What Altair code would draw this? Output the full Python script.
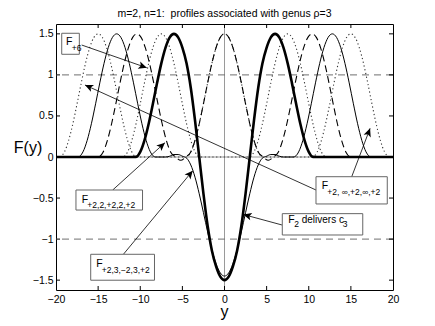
import math
import altair as alt
import pandas as pd

W, H = 337, 266
XMIN, XMAX = -20, 20
YMIN, YMAX = -1.62, 1.62

title_text = "m=2, n=1:\u00a0 profiles associated with genus \u03c1=3"
x_ticks = [-20, -15, -10, -5, 0, 5, 10, 15, 20]
y_ticks = [-1.5, -1, -0.5, 0, 0.5, 1, 1.5]
ref_dashed = [1, -1]

# thick solid: F_2 delivers c_3
thick_x = [-20, -11, -10.5, -10, -9.5, -9, -8.5, -8, -7.5, -7, -6.5, -6, -5.5, -5, -4.5, -4, -3.5, -3,
           -2.5, -2, -1.5, -1, -0.5, 0, 0.5, 1, 1.5, 2, 2.5, 3, 3.5, 4, 4.5, 5, 5.5, 6, 6.5, 7, 7.5,
           8, 8.5, 9, 9.5, 10, 10.5, 11, 20]
thick_y = [0, 0, 0.002, 0.062, 0.202, 0.405, 0.648, 0.903, 1.14, 1.332, 1.457, 1.5, 1.457, 1.332,
           1.138, 0.841, 0.446, 0, -0.446, -0.841, -1.138, -1.332, -1.457, -1.5, -1.457, -1.332,
           -1.138, -0.841, -0.446, 0, 0.446, 0.841, 1.138, 1.332, 1.457, 1.5, 1.457, 1.332, 1.14,
           0.903, 0.648, 0.405, 0.202, 0.062, 0.002, 0, 0]

# thin solid: F_{+2,3,-2,3,+2}
thin_x = [-20, -17.4, -16.8, -16.3, -15.8, -15.3, -14.8, -14.3, -13.8, -13.3, -12.8, -12.3, -11.8,
          -11.3, -10.8, -10.3, -9.8, -9.3, -8.8, -8.2, -7, -6.5, -6, -5.5, -5, -4.5, -4, -3.5, -3,
          -2.5, -2, -1.5, -1, -0.5, 0, 0.5, 1, 1.5, 2, 2.5, 3, 3.5, 4, 4.5, 5, 5.5, 6, 6.5, 7, 8.2,
          8.8, 9.3, 9.8, 10.3, 10.8, 11.3, 11.8, 12.3, 12.8, 13.3, 13.8, 14.3, 14.8, 15.3, 15.8,
          16.3, 16.8, 17.4, 20]
thin_y = [0, 0, 0.062, 0.202, 0.405, 0.648, 0.903, 1.14, 1.332, 1.457, 1.5, 1.457, 1.332, 1.14,
          0.903, 0.648, 0.405, 0.202, 0.062, 0, 0, 0.01, 0.03, 0.03, 0.01, -0.014, -0.097, -0.246,
          -0.448, -0.677, -0.913, -1.128, -1.3, -1.412, -1.45, -1.412, -1.3, -1.128, -0.913,
          -0.677, -0.448, -0.246, -0.097, -0.014, 0.01, 0.03, 0.03, 0.01, 0, 0, 0.062, 0.202,
          0.405, 0.648, 0.903, 1.14, 1.332, 1.457, 1.5, 1.457, 1.332, 1.14, 0.903, 0.648, 0.405,
          0.202, 0.062, 0, 0]

# dashed: F_{+2,2,+2,2,+2}
dash_x = [-20, -15, -14.4, -13.9, -13.4, -12.9, -12.4, -11.9, -11.4, -10.9, -10.4, -9.9, -9.4,
          -8.9, -8.4, -7.9, -7.4, -6.9, -6.4, -5.8, -5.2, -4.6, -4, -3.5, -3, -2.5, -2, -1.5, -1,
          -0.5, 0, 0.5, 1, 1.5, 2, 2.5, 3, 3.5, 4, 4.6, 5.2, 5.8, 6.4, 6.9, 7.4, 7.9, 8.4, 8.9,
          9.4, 9.9, 10.4, 10.9, 11.4, 11.9, 12.4, 12.9, 13.4, 13.9, 14.4, 15, 20]
dash_y = [0, 0, 0.062, 0.202, 0.405, 0.648, 0.903, 1.14, 1.332, 1.457, 1.5, 1.457, 1.332, 1.14,
          0.903, 0.648, 0.405, 0.202, 0.062, 0, -0.04, 0, 0.062, 0.202, 0.405, 0.648, 0.903, 1.14,
          1.332, 1.457, 1.5, 1.457, 1.332, 1.14, 0.903, 0.648, 0.405, 0.202, 0.062, 0, -0.04, 0,
          0.062, 0.202, 0.405, 0.648, 0.903, 1.14, 1.332, 1.457, 1.5, 1.457, 1.332, 1.14, 0.903,
          0.648, 0.405, 0.202, 0.062, 0, 0]

# dotted (outer): F_{+2,inf,+2,inf,+2}
dot1_x = [-20, -19.6, -19, -18.5, -18, -17.5, -17, -16.5, -16, -15.5, -15, -14.5, -14, -13.5, -13,
          -12.5, -12, -11.5, -11, -10.4, -4.6, -4, -3.5, -3, -2.5, -2, -1.5, -1, -0.5, 0, 0.5, 1,
          1.5, 2, 2.5, 3, 3.5, 4, 4.6, 10.4, 11, 11.5, 12, 12.5, 13, 13.5, 14, 14.5, 15, 15.5, 16,
          16.5, 17, 17.5, 18, 18.5, 19, 19.6, 20]
dot1_y = [0, 0, 0.062, 0.202, 0.405, 0.648, 0.903, 1.14, 1.332, 1.457, 1.5, 1.457, 1.332, 1.14,
          0.903, 0.648, 0.405, 0.202, 0.062, 0, 0, 0.062, 0.202, 0.405, 0.648, 0.903, 1.14, 1.332,
          1.457, 1.5, 1.457, 1.332, 1.14, 0.903, 0.648, 0.405, 0.202, 0.062, 0, 0, 0.062, 0.202,
          0.405, 0.648, 0.903, 1.14, 1.332, 1.457, 1.5, 1.457, 1.332, 1.14, 0.903, 0.648, 0.405,
          0.202, 0.062, 0, 0]

# dotted (inner): F_{+6}
dot2_x = [-20, -12.1, -11.5, -11, -10.5, -10, -9.5, -9, -8.5, -8, -7.5, -7, -6.5, -6, -5.5, -5,
          -4.5, -4, -3.5, -2.9, 2.9, 3.5, 4, 4.5, 5, 5.5, 6, 6.5, 7, 7.5, 8, 8.5, 9, 9.5, 10, 10.5,
          11, 11.5, 12.1, 20]
dot2_y = [0, 0, 0.062, 0.202, 0.405, 0.648, 0.903, 1.14, 1.332, 1.457, 1.5, 1.457, 1.332, 1.14,
          0.903, 0.648, 0.405, 0.202, 0.062, 0, 0, 0.062, 0.202, 0.405, 0.648, 0.903, 1.14, 1.332,
          1.457, 1.5, 1.457, 1.332, 1.14, 0.903, 0.648, 0.405, 0.202, 0.062, 0, 0]

# annotation boxes (data units)
box_x1 = [-19.32, 10.86, -17.63, -15.88, 6.86]
box_x2 = [-17.23, 19.32, -9.73, -8.31, 16.41]
box_y1 = [1.507, -0.240, -0.402, -1.185, -0.69]
box_y2 = [1.251, -0.572, -0.646, -1.501, -0.95]

# annotation texts
txt_x = [-18.81, -18.14, 11.54, 12.2, -16.95, -16.28, -15.22, -14.57, 7.57, 8.28, 9.16, 14.03]
txt_y = [1.398, 1.324, -0.353, -0.423, -0.521, -0.585, -1.303, -1.38, -0.764, -0.816, -0.764, -0.816]
txt_s = ["F", "+6", "F", "+2, \u221e,+2,\u221e,+2", "F", "+2,2,+2,2,+2", "F", "+2,3,\u22122,3,+2",
         "F", "2", "delivers c", "3"]
txt_size = [10.5, 8.5, 10.5, 8.5, 10.5, 8.5, 10.5, 8.5, 10.5, 8.5, 10, 8.5]

# arrows (data units): start -> tip
arr_x1 = [-16.95, 10.86, 15.1, -13.27, -12.0, 6.82]
arr_y1 = [1.364, -0.402, -0.240, -0.402, -1.185, -0.828]
arr_x2 = [-9.23, -16.56, 17.28, -7.07, -3.77, 2.23]
arr_y2 = [1.087, 0.877, 0.349, 0.174, -0.167, -0.70]

xs = alt.Scale(domain=[XMIN, XMAX], nice=False, zero=False)
ys = alt.Scale(domain=[YMIN, YMAX], nice=False, zero=False)
FONT = "Liberation Sans"

xaxis = alt.Axis(values=x_ticks, ticks=False, tickSize=0, domain=False, grid=False, title=None,
                 labelFont=FONT, labelFontSize=10.5, labelColor="black", labelPadding=4,
                 format="~g", labelFlush=False)
yaxis = alt.Axis(values=y_ticks, ticks=False, tickSize=0, domain=False, grid=False, title=None,
                 labelFont=FONT, labelFontSize=10.5, labelColor="black", labelPadding=3,
                 format="~g")


def X(field):
    return alt.X(field, type="quantitative", scale=xs, axis=xaxis)


def Y(field):
    return alt.Y(field, type="quantitative", scale=ys, axis=yaxis)


# reference lines
zero_h = alt.Chart(pd.DataFrame({"y": [0]})).mark_rule(color="#9a9a9a", strokeWidth=1).encode(
    y=Y("y"))
zero_v = alt.Chart(pd.DataFrame({"x": [0]})).mark_rule(color="#9a9a9a", strokeWidth=1).encode(
    x=X("x"))
dash_ref = alt.Chart(pd.DataFrame({"y": ref_dashed})).mark_rule(
    color="#6f6f6f", strokeWidth=1, strokeDash=[7, 5]).encode(y=Y("y"))


def curve(xv, yv, **style):
    df = pd.DataFrame({"x": xv, "y": yv})
    return alt.Chart(df).mark_line(interpolate="monotone", clip=True, **style).encode(
        x=X("x"), y=Y("y"))


c_dot1 = curve(dot1_x, dot1_y, color="#333333", strokeWidth=1.1, strokeDash=[1.2, 2.6])
c_dot2 = curve(dot2_x, dot2_y, color="#333333", strokeWidth=1.1, strokeDash=[1.2, 2.6])
c_dash = curve(dash_x, dash_y, color="black", strokeWidth=1.1, strokeDash=[7, 4])
c_thin = curve(thin_x, thin_y, color="black", strokeWidth=1.0)
c_thick = curve(thick_x, thick_y, color="black", strokeWidth=2.6)

# inward ticks on all four sides
tx = pd.DataFrame({"t": x_ticks[1:-1]})
ty = pd.DataFrame({"t": y_ticks})
tick_b = alt.Chart(tx).mark_rule(color="black", strokeWidth=1).encode(
    x=X("t"), y=alt.value(H), y2=alt.value(H - 4))
tick_t = alt.Chart(tx).mark_rule(color="black", strokeWidth=1).encode(
    x=X("t"), y=alt.value(0), y2=alt.value(4))
tick_l = alt.Chart(ty).mark_rule(color="black", strokeWidth=1).encode(
    y=Y("t"), x=alt.value(0), x2=alt.value(4))
tick_r = alt.Chart(ty).mark_rule(color="black", strokeWidth=1).encode(
    y=Y("t"), x=alt.value(W), x2=alt.value(W - 4))

# arrows
px_x = W / (XMAX - XMIN)
px_y = H / (YMAX - YMIN)
angles = []
for a, b, c, d in zip(arr_x1, arr_y1, arr_x2, arr_y2):
    sx = (c - a) * px_x
    sy = -(d - b) * px_y
    angles.append((math.degrees(math.atan2(sx, -sy)) + 360) % 360)
arr_df = pd.DataFrame({"x1": arr_x1, "y1": arr_y1, "x2": arr_x2, "y2": arr_y2, "ang": angles})
arr_lines = alt.Chart(arr_df).mark_rule(color="black", strokeWidth=0.8).encode(
    x=X("x1"), y=Y("y1"), x2="x2", y2="y2")
head_path = "M0,0 L-0.6,1.3 L0,1.0 L0.6,1.3 Z"
arr_heads = alt.Chart(arr_df).mark_point(shape=head_path, filled=True, color="black",
                                          size=160, strokeWidth=0, opacity=1).encode(
    x=X("x2"), y=Y("y2"), angle=alt.Angle("ang:Q", scale=None))

box_df = pd.DataFrame({"x1": box_x1, "x2": box_x2, "y1": box_y1, "y2": box_y2})
boxes = alt.Chart(box_df).mark_rect(fill="white", stroke="#666666", strokeWidth=1).encode(
    x=X("x1"), x2="x2", y=Y("y1"), y2="y2")

txt_df = pd.DataFrame({"x": txt_x, "y": txt_y, "t": txt_s, "s": txt_size})
texts = alt.Chart(txt_df).mark_text(align="left", baseline="middle", font=FONT,
                                    color="black").encode(
    x=X("x"), y=Y("y"), text="t:N", size=alt.Size("s:Q", scale=None))

title = alt.Chart(pd.DataFrame({"t": [title_text]})).mark_text(
    font=FONT, fontSize=10.5, color="black", align="center", baseline="middle").encode(
    text="t:N", x=alt.value(W / 2), y=alt.value(-10))
ylab = alt.Chart(pd.DataFrame({"t": ["F(y)"]})).mark_text(
    font=FONT, fontSize=16, color="black", align="center", baseline="alphabetic").encode(
    text="t:N", x=alt.value(-28), y=alt.value(129))
xlab = alt.Chart(pd.DataFrame({"t": ["y"]})).mark_text(
    font=FONT, fontSize=16, color="black", align="center", baseline="alphabetic").encode(
    text="t:N", x=alt.value(W / 2), y=alt.value(293))

chart = alt.layer(
    zero_h, zero_v, dash_ref, c_dot1, c_dot2, c_dash, c_thin, c_thick,
    tick_b, tick_t, tick_l, tick_r, arr_lines, arr_heads, boxes, texts, title, ylab, xlab
).properties(
    width=W, height=H,
    autosize=alt.AutoSizeParams(type="none"),
    padding={"left": 48, "top": 16, "right": 30, "bottom": 36},
    background="white",
).configure_view(stroke="black", strokeWidth=1)

chart.save("out.html", embed_options={"renderer": "svg", "actions": False})
